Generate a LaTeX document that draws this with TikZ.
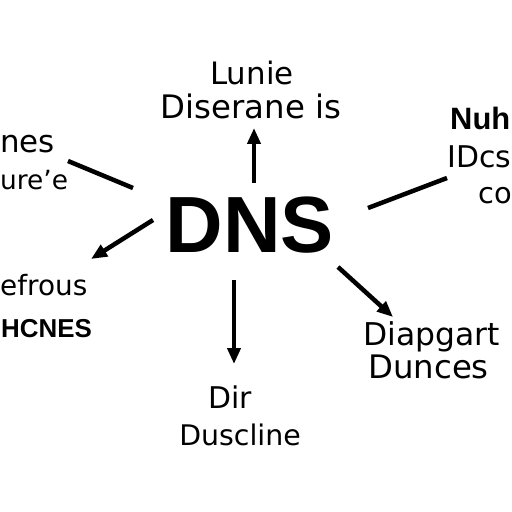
\documentclass[tikz,border=0pt]{standalone}
\usepackage{fontspec}
\setmainfont{DejaVu Sans}
\newfontfamily\arialfont{Liberation Sans}
\usetikzlibrary{arrows.meta}
\begin{document}
\begin{tikzpicture}[x=1bp,y=-1bp,
  lbl/.style={inner sep=0pt,font=\fontsize{#1}{30}\selectfont},
  lbl/.default=30,
  lblb/.style={inner sep=0pt,font=\arialfont\fontsize{#1}{30}\selectfont\bfseries},
  lblb/.default=26,
  conn/.style={line width=4.5bp},
  arr/.style={conn,-{Triangle[length=16bp,width=13bp]}}]
\path[use as bounding box,fill=white] (0,0) rectangle (512,512);
% centre
\node[inner sep=0pt,anchor=base,font=\arialfont\fontsize{80}{80}\selectfont\bfseries] (dns) at (250,252) {DNS};
% top
\node[lbl=31,anchor=base] (t1) at (252,85) {Lunie};
\node[lbl=32.5,anchor=base] (t2) at (251,119) {Diserane is};
% left
\node[lbl=31,anchor=base west] (l1) at (0,153) {nes};
\node[lbl=26.5,anchor=base west] (l2) at (0,190) {ure'e};
\node[lbl=28,anchor=base west] (l3) at (0,295) {efrous};
\node[lblb,anchor=base west] (l4) at (1,337) {HCNES};
% right
\node[lblb=31,anchor=base west] (r1) at (450,130) {Nuh};
\node[lbl=30,anchor=base west] (r2) at (447,168) {IDcs};
\node[lbl=29,anchor=base west] (r3) at (478,204) {co};
\node[lbl=31.5,anchor=base west] (r4) at (363,345) {Diapgart};
\node[lbl=32.5,anchor=base west] (r5) at (368,378) {Dunces};
% bottom
\node[lbl=30,anchor=base] (b1) at (230,408) {Dir};
\node[lbl=28.5,anchor=base] (b2) at (240,445) {Duscline};
% connector ends
\coordinate (up0) at (254,183); \coordinate (up1) at (254,128);
\coordinate (lt0) at (133,188); \coordinate (lt1) at (68,161);
\coordinate (la0) at (153,220); \coordinate (la1) at (91,259);
\coordinate (rt0) at (368,208); \coordinate (rt1) at (447,178);
\coordinate (ra0) at (338,267); \coordinate (ra1) at (393,317);
\coordinate (da0) at (234,280); \coordinate (da1) at (234,364);
\draw[arr] (up0) -- (up1);
\draw[conn] (lt0) -- (lt1);
\draw[arr] (la0) -- (la1);
\draw[conn] (rt0) -- (rt1);
\draw[arr] (ra0) -- (ra1);
\draw[arr] (da0) -- (da1);
\end{tikzpicture}
\end{document}
